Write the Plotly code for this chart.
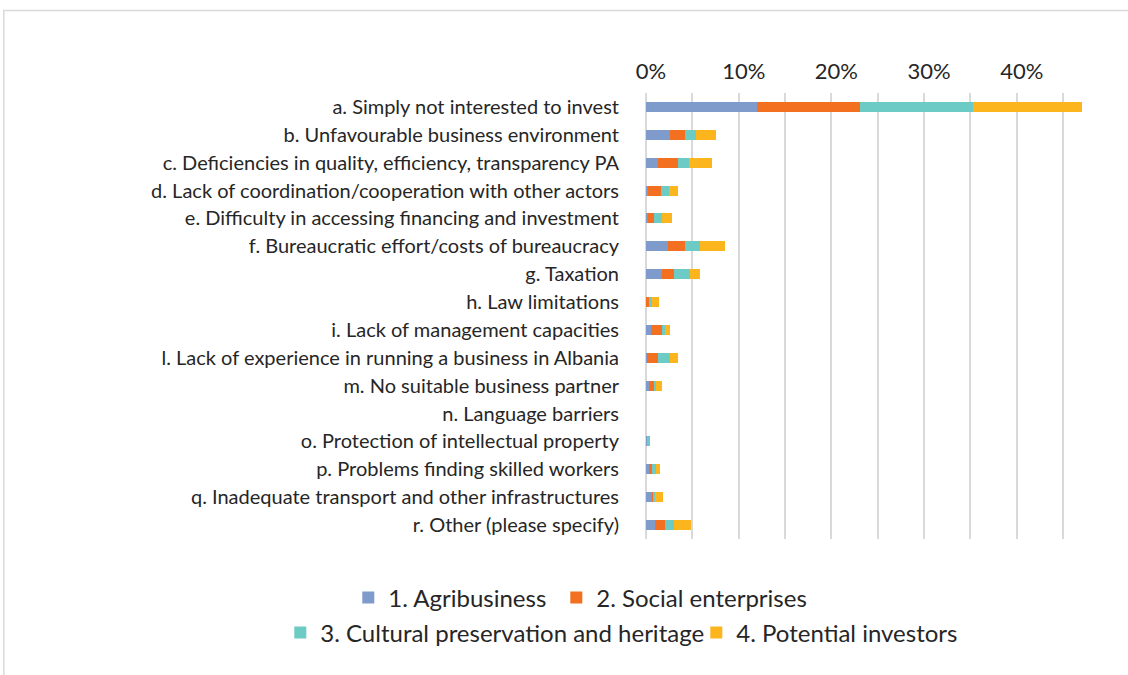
import plotly.graph_objects as go

categories = [
    "a. Simply not interested to invest",
    "b. Unfavourable business environment",
    "c. Deficiencies in quality, efficiency, transparency PA",
    "d. Lack of coordination/cooperation with other actors",
    "e. Difficulty in accessing financing and investment",
    "f. Bureaucratic effort/costs of bureaucracy",
    "g. Taxation",
    "h. Law limitations",
    "i. Lack of management capacities",
    "l. Lack of experience in running a business in Albania",
    "m. No suitable business partner",
    "n. Language barriers",
    "o. Protection of intellectual property",
    "p. Problems finding skilled workers",
    "q. Inadequate transport and other infrastructures",
    "r. Other (please specify)",
]

agribusiness = [0.120, 0.026, 0.013, 0.002, 0.002, 0.024, 0.017, 0.001, 0.005, 0.001, 0.003, 0.0, 0.001, 0.004, 0.007, 0.010]
social = [0.111, 0.016, 0.021, 0.014, 0.007, 0.018, 0.013, 0.002, 0.012, 0.012, 0.006, 0.0, 0.0, 0.002, 0.001, 0.010]
cultural = [0.122, 0.012, 0.012, 0.009, 0.008, 0.016, 0.017, 0.003, 0.004, 0.013, 0.002, 0.0, 0.0035, 0.005, 0.002, 0.010]
investors = [0.117, 0.021, 0.025, 0.010, 0.011, 0.027, 0.011, 0.008, 0.005, 0.009, 0.006, 0.0, 0.0, 0.004, 0.008, 0.018]

series_names = ["1. Agribusiness", "2. Social enterprises",
                "3. Cultural preservation and heritage", "4. Potential investors"]
series_values = [agribusiness, social, cultural, investors]
colors = ["#7F9BCB", "#F37021", "#6CCBC4", "#FDB51E"]
legend_ids = ["legend", "legend2", "legend3", "legend4"]

tick_vals = [0, 0.05, 0.10, 0.15, 0.20, 0.25, 0.30, 0.35, 0.40, 0.45]
tick_text = ["0%", "", "10%", "", "20%", "", "30%", "", "40%", ""]

FONT = "Lato, 'Open Sans', sans-serif"
TXT = "#262626"

fig = go.Figure()
for name, vals, col, lg in zip(series_names, series_values, colors, legend_ids):
    fig.add_trace(go.Bar(
        y=categories, x=vals, name=name, orientation="h",
        marker=dict(color=col, line=dict(width=0)),
        legend=lg,
    ))

W, H = 1128, 675
L, R = 645.7, 1081.7
T, B = 93, 539
PW, PH = R - L, B - T


def px_x(p):
    return (p - L) / PW


def px_y(p):
    return (B - p) / PH


def legend_at(text_left, yc):
    return dict(orientation="h", xref="paper", yref="paper",
                x=px_x(text_left - 40), xanchor="left",
                y=px_y(yc), yanchor="middle",
                font=dict(size=24, color=TXT), itemwidth=30,
                bgcolor="rgba(0,0,0,0)", borderwidth=0)


fig.update_layout(
    width=W, height=H,
    barmode="stack", bargap=0.64,
    plot_bgcolor="white", paper_bgcolor="white",
    margin=dict(l=L, r=W - R, t=T, b=H - B, autoexpand=False),
    font=dict(family=FONT, size=20, color=TXT),
    showlegend=True,
    legend=legend_at(388, 598),
    legend2=legend_at(596, 598),
    legend3=legend_at(320, 633),
    legend4=legend_at(736, 633),
    xaxis=dict(
        side="top", range=[0, 0.4703], tickvals=tick_vals, ticktext=tick_text,
        showgrid=True, gridcolor="#D9D9D9", gridwidth=1.5,
        zeroline=True, zerolinecolor="#D9D9D9", zerolinewidth=1.5,
        ticks="", showline=False, ticklabelshift=5, ticklabelstandoff=9,
        tickfont=dict(size=22, color=TXT), fixedrange=True,
    ),
    yaxis=dict(
        autorange="reversed", ticks="", showgrid=False, showline=False,
        ticklabelstandoff=26, tickfont=dict(size=20, color=TXT),
    ),
    shapes=[dict(
        type="rect", xref="paper", yref="paper",
        x0=px_x(3.5), x1=px_x(1140),
        y0=px_y(690), y1=px_y(10.5),
        line=dict(color="#D9D9D9", width=1.5), fillcolor="rgba(0,0,0,0)",
        layer="below",
    )],
)

fig.write_html("out.html", config={"displayModeBar": False},
               post_script="document.body.style.margin='0';document.body.style.padding='0';")
